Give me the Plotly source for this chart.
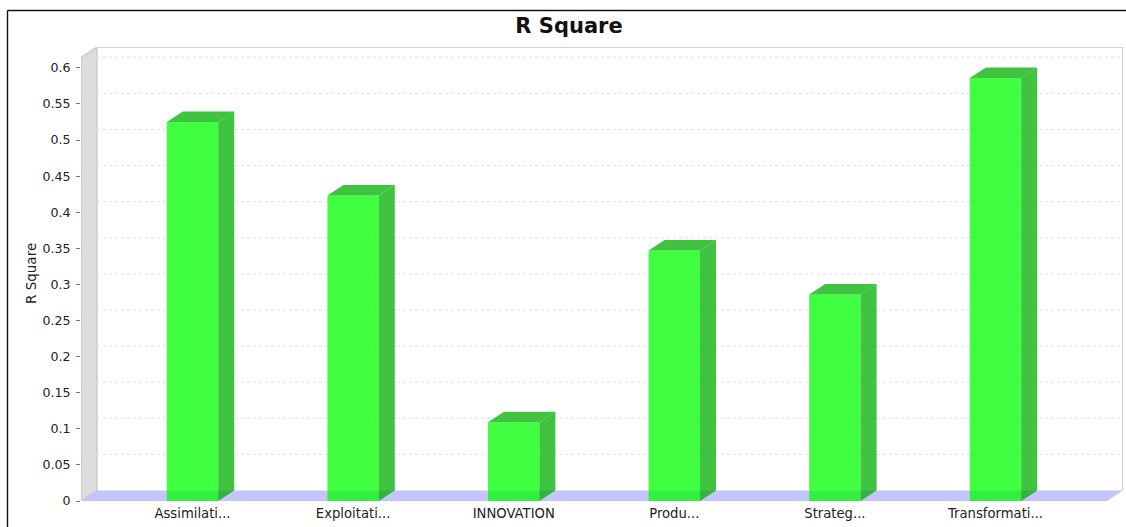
import plotly.graph_objects as go

# Chart data
categories = ["Assimilati...", "Exploitati...", "INNOVATION", "Produ...", "Strateg...", "Transformati..."]
r_square = [0.525, 0.423, 0.109, 0.347, 0.286, 0.586]
tick_values = [0, 0.05, 0.1, 0.15, 0.2, 0.25, 0.3, 0.35, 0.4, 0.45, 0.5, 0.55, 0.6]
tick_labels = ["0", "0.05", "0.1", "0.15", "0.2", "0.25", "0.3", "0.35", "0.4", "0.45", "0.5", "0.55", "0.6"]

# Page and plot geometry in pixels
WIDTH, HEIGHT = 1126, 527
LEFT, RIGHT, TOP, BOTTOM = 81, 1123, 47, 501
PX_PER_UNIT = 722.0       # vertical pixels per unit of R Square
PX_PER_CAT = 160.6        # horizontal pixels per category
FIRST_CENTER = 192.5      # pixel position of the first category
DEPTH_X_PX, DEPTH_Y_PX = 16, 10.5

x_min = (LEFT - FIRST_CENTER) / PX_PER_CAT
x_max = (RIGHT - FIRST_CENTER) / PX_PER_CAT
y_max = (BOTTOM - TOP) / PX_PER_UNIT
dx = DEPTH_X_PX / PX_PER_CAT
dy = DEPTH_Y_PX / PX_PER_UNIT
front_right = x_max - dx
front_top = y_max - dy
BAR_WIDTH = 0.32

FRONT = "rgba(0,255,0,0.75)"
SHADE = "rgba(0,175,0,0.75)"
WALL = "#dddddd"
WALL_EDGE = "#c4c4c4"
FLOOR = "#c4c4ff"
GRID = "#e2e2e2"
TEXT = "#222222"
FONT = "DejaVu Sans"


def polygon_path(points):
    return "M " + " L ".join(f"{x},{y}" for x, y in points) + " Z"


shapes = [
    # Left wall
    dict(type="path", layer="below", xref="x", yref="y",
         path=polygon_path([(x_min, 0), (x_min + dx, dy), (x_min + dx, y_max), (x_min, front_top)]),
         fillcolor=WALL, line=dict(color=WALL_EDGE, width=1.2)),
    # Floor
    dict(type="path", layer="below", xref="x", yref="y",
         path=polygon_path([(x_min, 0), (x_min + dx, dy), (x_max, dy), (front_right, 0)]),
         fillcolor=FLOOR, line=dict(width=0)),
    # Front edge of the floor
    dict(type="line", layer="below", xref="x", yref="y", x0=x_min, x1=front_right, y0=0, y1=0,
         line=dict(color=WALL_EDGE, width=1.2)),
    # Back wall outline
    dict(type="line", layer="below", xref="x", yref="y", x0=x_min + dx, x1=x_max, y0=y_max, y1=y_max,
         line=dict(color=WALL_EDGE, width=1.6)),
    dict(type="line", layer="below", xref="x", yref="y", x0=x_max, x1=x_max, y0=dy, y1=y_max,
         line=dict(color=WALL_EDGE, width=1.6)),
    # Outer frame along the top and left of the page
    dict(type="line", xref="paper", yref="paper",
         x0=(7.5 - LEFT) / (RIGHT - LEFT), x1=(WIDTH - LEFT) / (RIGHT - LEFT),
         y0=(BOTTOM - 10.5) / (BOTTOM - TOP), y1=(BOTTOM - 10.5) / (BOTTOM - TOP),
         line=dict(color="#111111", width=1.4)),
    dict(type="line", xref="paper", yref="paper",
         x0=(7.5 - LEFT) / (RIGHT - LEFT), x1=(7.5 - LEFT) / (RIGHT - LEFT),
         y0=(BOTTOM - 10.5) / (BOTTOM - TOP), y1=(BOTTOM - HEIGHT) / (BOTTOM - TOP),
         line=dict(color="#111111", width=1.4)),
]

# Dashed gridlines run across the left wall and along the back wall
for v in tick_values[1:]:
    shapes.append(dict(type="line", layer="below", xref="x", yref="y",
                       x0=x_min, x1=x_min + dx, y0=v, y1=v + dy,
                       line=dict(color=GRID, width=1, dash="3px,3px")))
    shapes.append(dict(type="line", layer="below", xref="x", yref="y",
                       x0=x_min + dx, x1=x_max, y0=v + dy, y1=v + dy,
                       line=dict(color=GRID, width=1, dash="3px,3px")))

fig = go.Figure()

positions = list(range(len(categories)))

# Front faces of the bars
fig.add_trace(go.Bar(x=positions, y=r_square, width=BAR_WIDTH,
                     marker=dict(color=FRONT, line=dict(width=0)),
                     hoverinfo="skip", showlegend=False))

# Side and top faces of the bars
for pos, value in zip(positions, r_square):
    left = pos - BAR_WIDTH / 2
    right = pos + BAR_WIDTH / 2
    fig.add_trace(go.Scatter(x=[right, right + dx, right + dx, right, right],
                             y=[0, dy, value + dy, value, 0],
                             mode="lines", fill="toself", fillcolor=SHADE,
                             line=dict(width=0), hoverinfo="skip", showlegend=False))
    fig.add_trace(go.Scatter(x=[left, left + dx, right + dx, right, left],
                             y=[value, value + dy, value + dy, value, value],
                             mode="lines", fill="toself", fillcolor=SHADE,
                             line=dict(width=0), hoverinfo="skip", showlegend=False))

fig.update_layout(
    width=WIDTH, height=HEIGHT,
    margin=dict(l=LEFT, r=WIDTH - RIGHT, t=TOP, b=HEIGHT - BOTTOM),
    paper_bgcolor="white", plot_bgcolor="white",
    font=dict(family=FONT, color=TEXT, size=12),
    title=dict(text="<b>R Square</b>", x=569 / WIDTH, xanchor="center",
               y=1 - 26 / HEIGHT, yanchor="middle",
               font=dict(family=FONT, size=21, color="#111111")),
    shapes=shapes,
    annotations=[dict(text="R Square", xref="paper", yref="paper", textangle=-90,
                      x=(31 - LEFT) / (RIGHT - LEFT), y=(BOTTOM - 274) / (BOTTOM - TOP),
                      showarrow=False, xanchor="center", yanchor="middle",
                      font=dict(family=FONT, size=13.5, color=TEXT))],
    xaxis=dict(range=[x_min, x_max], tickmode="array", tickvals=positions, ticktext=categories,
               showgrid=False, zeroline=False, showline=False, ticks="", tickangle=0,
               ticklabelstandoff=3,
               tickfont=dict(family=FONT, size=13.2, color=TEXT)),
    yaxis=dict(range=[0, y_max], tickmode="array", tickvals=tick_values, ticktext=tick_labels,
               showgrid=False, zeroline=False, showline=False, ticks="outside", ticklen=4,
               tickcolor="#777777", tickwidth=1, ticklabelstandoff=3,
               tickfont=dict(family=FONT, size=12.6, color=TEXT)),
)

fig.write_html("out.html", config=dict(displayModeBar=False))
